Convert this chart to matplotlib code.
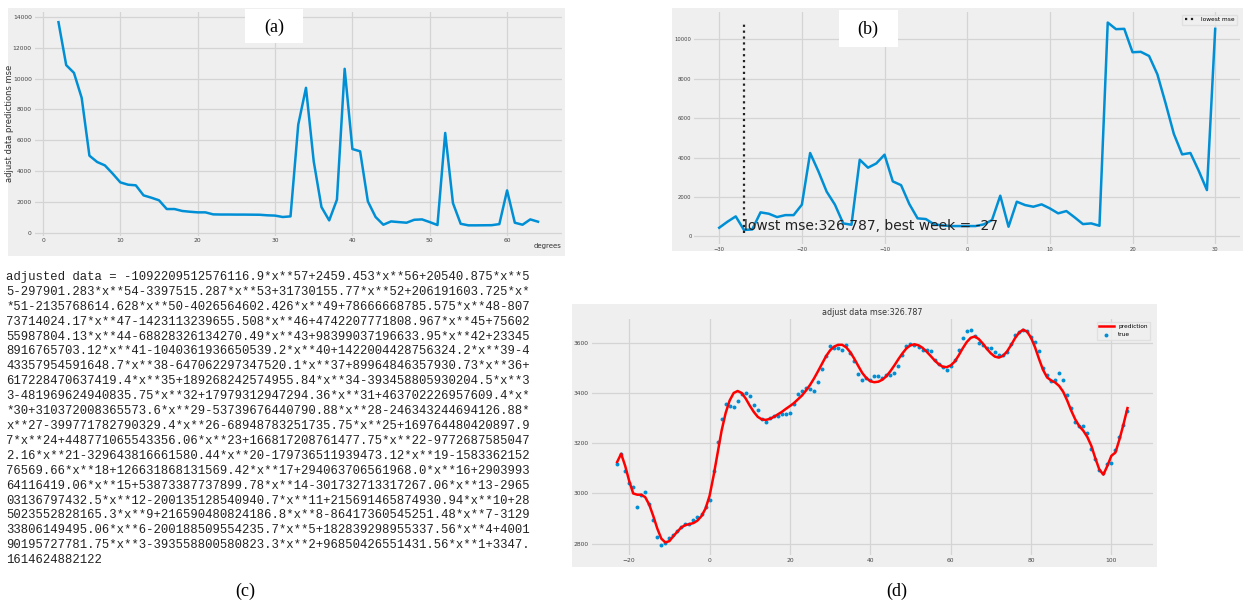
import matplotlib
matplotlib.use("Agg")
import matplotlib.pyplot as plt
from matplotlib.patches import Rectangle

W, H = 1247, 602
BG = "#efefef"
GRID = "#d4d4d4"
BLUE = "#008fd5"

# (a) mse of the adjusted-data prediction vs polynomial degree
degrees = list(range(2, 65))
deg_mse = [13650, 10870, 10370, 8750, 5010, 4600, 4380, 3850, 3280, 3130,
           3090, 2440, 2290, 2120, 1555, 1555, 1430, 1380, 1340, 1340,
           1210, 1200, 1200, 1195, 1195, 1190, 1185, 1150, 1130, 1040,
           1080, 7020, 9400, 4640, 1685, 820, 2160, 10630, 5440, 5290,
           2050, 1040, 540, 755, 710, 670, 860, 885, 710, 520,
           6480, 1940, 600, 500, 500, 505, 510, 580, 2760, 670,
           540, 885, 735]

# (b) mse vs week shift
weeks = list(range(-30, 31))
week_mse = [440, 745, 1015, 327, 355, 1220, 1150, 980, 1080, 1080,
            1610, 4230, 3300, 2270, 1610, 660, 590, 3890, 3485, 3700,
            4145, 2790, 2600, 1640, 915, 880, 610, 560, 525, 525,
            525, 525, 610, 830, 2065, 490, 1760, 1590, 1505, 1625,
            1420, 1170, 1285, 965, 625, 660, 540, 10845, 10510, 10525,
            9340, 9360, 9150, 8225, 6750, 5195, 4160, 4230, 3335, 2350,
            10525]
best_week = -27
best_mse = 326.787
vline_lo, vline_hi = 150, 10750

# (c) fitted polynomial, as printed
poly_lines = [
    "adjusted data = -1092209512576116.9*x**57+2459.453*x**56+20540.875*x**5",
    "5-297901.283*x**54-3397515.287*x**53+31730155.77*x**52+206191603.725*x*",
    "*51-2135768614.628*x**50-4026564602.426*x**49+78666668785.575*x**48-807",
    "73714024.17*x**47-1423113239655.508*x**46+4742207771808.967*x**45+75602",
    "55987804.13*x**44-68828326134270.49*x**43+98399037196633.95*x**42+23345",
    "8916765703.12*x**41-1040361936650539.2*x**40+1422004428756324.2*x**39-4",
    "43357954591648.7*x**38-647062297347520.1*x**37+89964846357930.73*x**36+",
    "617228470637419.4*x**35+189268242574955.84*x**34-393458805930204.5*x**3",
    "3-481969624940835.75*x**32+17979312947294.36*x**31+463702226957609.4*x*",
    "*30+310372008365573.6*x**29-53739676440790.88*x**28-246343244694126.88*",
    "x**27-399771782790329.4*x**26-68948783251735.75*x**25+169764480420897.9",
    "7*x**24+448771065543356.06*x**23+166817208761477.75*x**22-9772687585047",
    "2.16*x**21-329643816661580.44*x**20-179736511939473.12*x**19-1583362152",
    "76569.66*x**18+126631868131569.42*x**17+294063706561968.0*x**16+2903993",
    "64116419.06*x**15+53873387737899.78*x**14-301732713317267.06*x**13-2965",
    "03136797432.5*x**12-200135128540940.7*x**11+215691465874930.94*x**10+28",
    "5023552828165.3*x**9+216590480824186.8*x**8-86417360545251.48*x**7-3129",
    "33806149495.06*x**6-200188509554235.7*x**5+182839298955337.56*x**4+4001",
    "90195727781.75*x**3-393558800580823.3*x**2+96850426551431.56*x**1+3347.",
    "1614624882122",
]

# (d) true values and polynomial prediction
days = list(range(-23, 105))
true_vals = [3118, 3159, 3089, 3042, 3027, 2944, 2992, 3007, 2956, 2894,
             2828, 2796, 2801, 2823, 2835, 2850, 2868, 2880, 2880, 2893,
             2905, 2918, 2945, 2975, 3090, 3203, 3297, 3357, 3350, 3343,
             3368, 3395, 3400, 3388, 3353, 3333, 3297, 3285, 3300, 3310,
             3307, 3318, 3318, 3322, 3355, 3397, 3410, 3418, 3415, 3410,
             3445, 3495, 3548, 3587, 3580, 3580, 3572, 3593, 3558, 3527,
             3475, 3453, 3461, 3453, 3466, 3466, 3461, 3470, 3470, 3480,
             3509, 3550, 3588, 3597, 3593, 3585, 3570, 3570, 3568, 3532,
             3514, 3503, 3490, 3509, 3532, 3572, 3619, 3646, 3652, 3628,
             3601, 3592, 3579, 3580, 3564, 3551, 3551, 3563, 3596, 3630,
             3642, 3652, 3646, 3623, 3604, 3566, 3499, 3470, 3448, 3450,
             3480, 3450, 3393, 3340, 3283, 3268, 3268, 3242, 3177, 3139,
             3095, 3082, 3117, 3123, 3172, 3225, 3272, 3328]
pred_vals = [3125, 3158, 3110, 3050, 3000, 2995, 2995, 2985, 2955, 2910,
             2860, 2820, 2805, 2810, 2830, 2848, 2865, 2874, 2878, 2882,
             2892, 2910, 2940, 2990, 3070, 3160, 3250, 3320, 3370, 3400,
             3408, 3400, 3378, 3350, 3325, 3305, 3295, 3293, 3297, 3305,
             3315, 3325, 3337, 3348, 3360, 3375, 3390, 3410, 3432, 3458,
             3487, 3517, 3547, 3570, 3585, 3592, 3592, 3582, 3563, 3537,
             3508, 3480, 3460, 3447, 3443, 3445, 3453, 3467, 3487, 3510,
             3535, 3558, 3578, 3590, 3594, 3590, 3580, 3565, 3548, 3530,
             3515, 3505, 3503, 3510, 3525, 3550, 3578, 3603, 3620, 3625,
             3615, 3597, 3576, 3558, 3545, 3541, 3548, 3565, 3590, 3618,
             3640, 3652, 3645, 3620, 3582, 3535, 3492, 3462, 3450, 3442,
             3428, 3405, 3370, 3330, 3295, 3268, 3250, 3225, 3190, 3140,
             3095, 3075, 3110, 3150, 3163, 3215, 3275, 3340]


def box(x0, y0, x1, y1, color, z):
    r = Rectangle((x0 / W, 1 - y1 / H), (x1 - x0) / W, (y1 - y0) / H,
                  transform=fig.transFigure, facecolor=color,
                  edgecolor="none", zorder=z)
    fig.add_artist(r)


def px_axes(l, t, r, b):
    ax = fig.add_axes([l / W, 1 - b / H, (r - l) / W, (b - t) / H])
    ax.set_facecolor(BG)
    for s in ax.spines.values():
        s.set_visible(False)
    ax.grid(True, color=GRID, linewidth=0.9)
    ax.set_axisbelow(True)
    ax.tick_params(length=0, labelsize=4.3, colors="#444444", pad=2)
    return ax


fig = plt.figure(figsize=(W / 100, H / 100), dpi=100, facecolor="white")

# panel backgrounds
box(8, 8, 565, 256, BG, -5)
box(672, 8, 1243, 251, BG, -5)
box(572, 304, 1157, 567, BG, -5)

# (a)
ax = px_axes(34.5, 12, 562, 235.5)
ax.plot(degrees, deg_mse, color=BLUE, linewidth=1.8)
ax.set_yticks(range(0, 14001, 2000))
ax.set_xticks(range(0, 61, 10))
ax.set_xlabel("degrees", fontsize=5, color="#333333", labelpad=1)
ax.xaxis.set_label_coords(1.0, -0.035)
ax.xaxis.label.set_horizontalalignment("right")
ax.set_ylabel("adjust data predictions mse", fontsize=6, color="#333333")
ax.yaxis.set_label_coords(-0.038, 0.5)

# (b)
ax = px_axes(694.4, 12, 1240, 244)
ax.plot(weeks, week_mse, color=BLUE, linewidth=1.8)
ax.vlines(best_week, vline_lo, vline_hi, colors="#222222", linestyles=":",
          linewidth=1.6, label="lowest mse")
ax.text(best_week, best_mse, "lowst mse:%.3f, best week = %d" % (best_mse, best_week),
        fontsize=10, color="#222222")
ax.set_xticks(range(-30, 31, 10))
ax.set_yticks(range(0, 10001, 2000))
ax.tick_params(labelsize=3.8)
leg = ax.legend(loc="upper right", fontsize=4.2, frameon=True, fancybox=False,
                handlelength=2)
leg.get_frame().set_facecolor(BG)
leg.get_frame().set_edgecolor("#dddddd")

# (c)
for i, line in enumerate(poly_lines):
    fig.text(6 / W, 1 - (277 + i * 14.9) / H, line, fontsize=8.8,
             family="Liberation Mono", va="center", ha="left", color="#222222")

# (d)
ax = px_axes(591.6, 319, 1153, 555.4)
ax.plot(days, pred_vals, color="red", linewidth=1.8, label="prediction", zorder=3)
ax.scatter(days, true_vals, s=8, color=BLUE, label="true", zorder=2,
           linewidths=0)
ax.set_title("adjust data mse:%.3f" % best_mse, fontsize=5.8, color="#333333",
             pad=3)
ax.set_xticks(range(-20, 101, 20))
ax.set_yticks(range(2800, 3601, 200))
leg = ax.legend(loc="upper right", fontsize=4.2, frameon=True, fancybox=False,
                handlelength=2.5, scatterpoints=1, markerscale=1)
leg.get_frame().set_facecolor(BG)
leg.get_frame().set_edgecolor("#dddddd")

# panel tags
box(245, 9, 303, 43, "white", 5)
box(839, 10, 898, 47, "white", 5)
for tag, x, y in [("(a)", 274, 27), ("(b)", 868, 29), ("(c)", 245, 591),
                  ("(d)", 897, 591)]:
    fig.text(x / W, 1 - y / H, tag, fontsize=13, family="Liberation Serif",
             ha="center", va="center", zorder=6)

fig.savefig("out.png", dpi=100, facecolor="white")
